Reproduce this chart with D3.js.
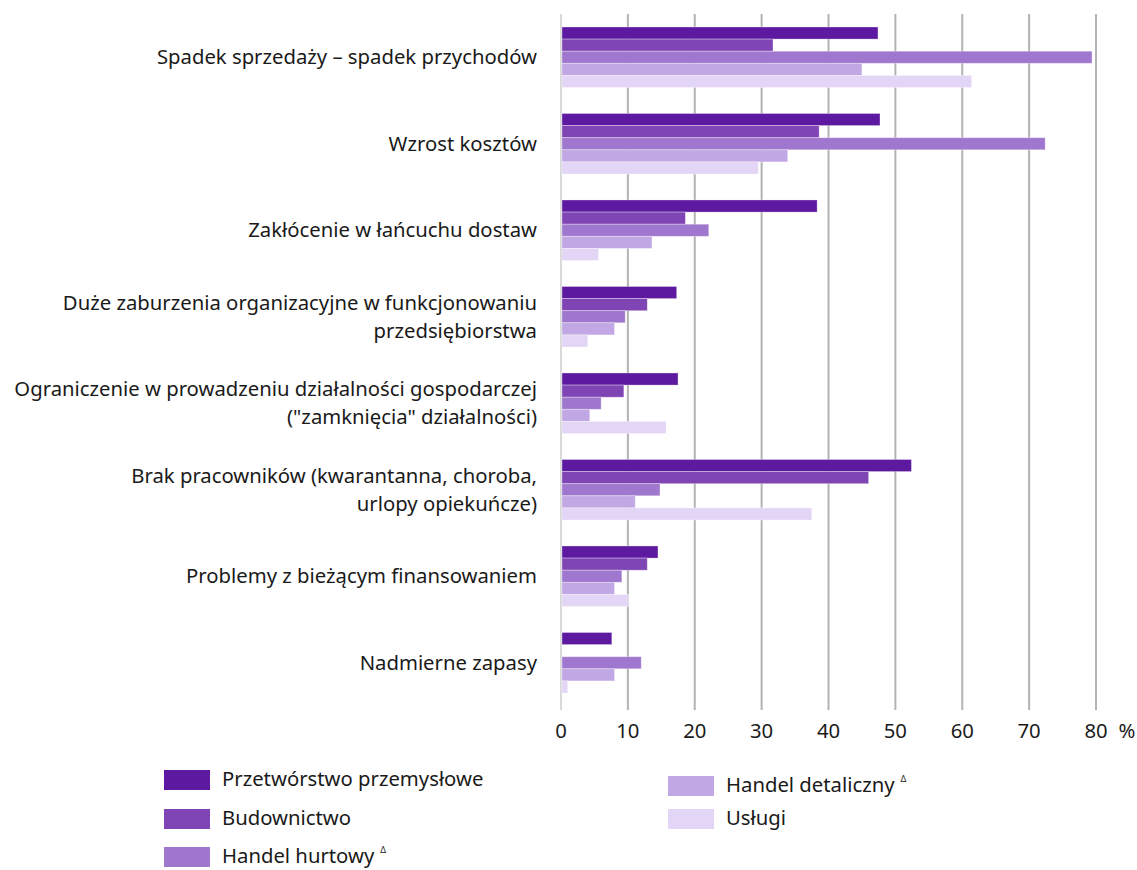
<!DOCTYPE html>
<html>
<head>
<meta charset="utf-8">
<script src="https://cdn.jsdelivr.net/npm/d3@7"></script>
<style>
  body { margin: 0; background: #fff; }
  text { font-family: "Noto Sans", sans-serif; fill: #1a1a1a; }
</style>
</head>
<body>
<div id="chart"></div>
<script>
const categories = [
    ["Spadek sprzedaży – spadek przychodów"],
    ["Wzrost kosztów"],
    ["Zakłócenie w łańcuchu dostaw"],
    ["Duże zaburzenia organizacyjne w funkcjonowaniu", "przedsiębiorstwa"],
    ["Ograniczenie w prowadzeniu działalności gospodarczej", "(\"zamknięcia\" działalności)"],
    ["Brak pracowników (kwarantanna, choroba,", "urlopy opiekuńcze)"],
    ["Problemy z bieżącym finansowaniem"],
    ["Nadmierne zapasy"]
];
const seriesNames = ["Przetwórstwo przemysłowe", "Budownictwo", "Handel hurtowy", "Handel detaliczny", "Usługi"];
const seriesMarks = ["", "", "Δ", "Δ", ""];
const przetworstwo = [47.4, 47.7, 38.3, 17.3, 17.5, 52.4, 14.5, 7.6];
const budownictwo = [31.7, 38.6, 18.6, 12.9, 9.4, 46.0, 12.9, 0];
const hurt = [79.4, 72.4, 22.1, 9.6, 6.0, 14.8, 9.1, 12.0];
const detal = [45.0, 33.9, 13.6, 8.0, 4.3, 11.1, 8.0, 8.0];
const uslugi = [61.4, 29.5, 5.6, 4.0, 15.7, 37.5, 10.1, 1.0];
const ticks = [0, 10, 20, 30, 40, 50, 60, 70, 80];

const series = [przetworstwo, budownictwo, hurt, detal, uslugi];
const colors = ["#5d1aa0", "#7f45b4", "#a077ce", "#c1a8e4", "#e3d5f6"];

const width = 1137, height = 870;
const fontSize = 20.3;
const svg = d3.select("#chart").append("svg")
    .attr("width", width)
    .attr("height", height);

const x = d3.scaleLinear().domain([0, 80]).range([561, 1096]);
const y = d3.scaleBand().domain(d3.range(categories.length)).range([14, 706]).paddingInner(0.3).paddingOuter(0.15);
const yInner = d3.scaleBand().domain(d3.range(series.length)).range([0, y.bandwidth()]);

// gridlines
svg.append("g").selectAll("line")
    .data(ticks)
    .join("line")
    .attr("x1", d => x(d)).attr("x2", d => x(d))
    .attr("y1", 14).attr("y2", 710)
    .attr("stroke", d => d === 0 ? "#d9d9d9" : "#b3b3b3")
    .attr("stroke-width", 2);

// bars
const groups = svg.append("g").selectAll("g")
    .data(categories.map((c, i) => i))
    .join("g")
    .attr("transform", i => "translate(0," + y(i) + ")");

groups.selectAll("rect")
    .data(i => series.map((s, k) => ({k: k, v: s[i]})))
    .join("rect")
    .attr("x", x(0) + 1)
    .attr("y", d => yInner(d.k))
    .attr("width", d => Math.max(0, x(d.v) - x(0) - 1))
    .attr("height", yInner.bandwidth())
    .attr("fill", d => colors[d.k])
    .attr("stroke", "#ffffff")
    .attr("stroke-opacity", 0.4)
    .attr("stroke-width", 0.8)
    .style("display", d => d.v > 0 ? null : "none");

// category labels
const labels = svg.append("g").selectAll("text")
    .data(categories)
    .join("text")
    .attr("text-anchor", "end")
    .attr("font-size", fontSize)
    .attr("y", (d, i) => y(i) + y.bandwidth() / 2);

labels.selectAll("tspan")
    .data(d => d.map((t, j) => ({t: t, j: j, n: d.length})))
    .join("tspan")
    .attr("x", 537)
    .attr("dy", d => d.j === 0 ? (7 - (d.n - 1) * 14) + "px" : "28px")
    .text(d => d.t);

// axis tick labels
svg.append("g").selectAll("text")
    .data(ticks)
    .join("text")
    .attr("x", d => x(d))
    .attr("y", 738)
    .attr("text-anchor", "middle")
    .attr("font-size", fontSize)
    .text(d => d);

svg.append("text")
    .attr("x", 1127)
    .attr("y", 738)
    .attr("text-anchor", "middle")
    .attr("font-size", fontSize)
    .text("%");

// legend
const legendPos = [[164, 780], [164, 819], [164, 857], [668, 786], [668, 819]];
const legend = svg.append("g").selectAll("g")
    .data(seriesNames)
    .join("g")
    .attr("transform", (d, i) => "translate(" + legendPos[i][0] + "," + legendPos[i][1] + ")");

legend.append("rect")
    .attr("x", 0).attr("y", -10)
    .attr("width", 46).attr("height", 20)
    .attr("fill", (d, i) => colors[i]);

const ltext = legend.append("text")
    .attr("x", 58)
    .attr("y", 6)
    .attr("font-size", fontSize)
    .text(d => d);

ltext.append("tspan")
    .attr("font-size", 9)
    .attr("dx", 6)
    .attr("dy", -10)
    .text((d, i) => seriesMarks[i]);
</script>
</body>
</html>
